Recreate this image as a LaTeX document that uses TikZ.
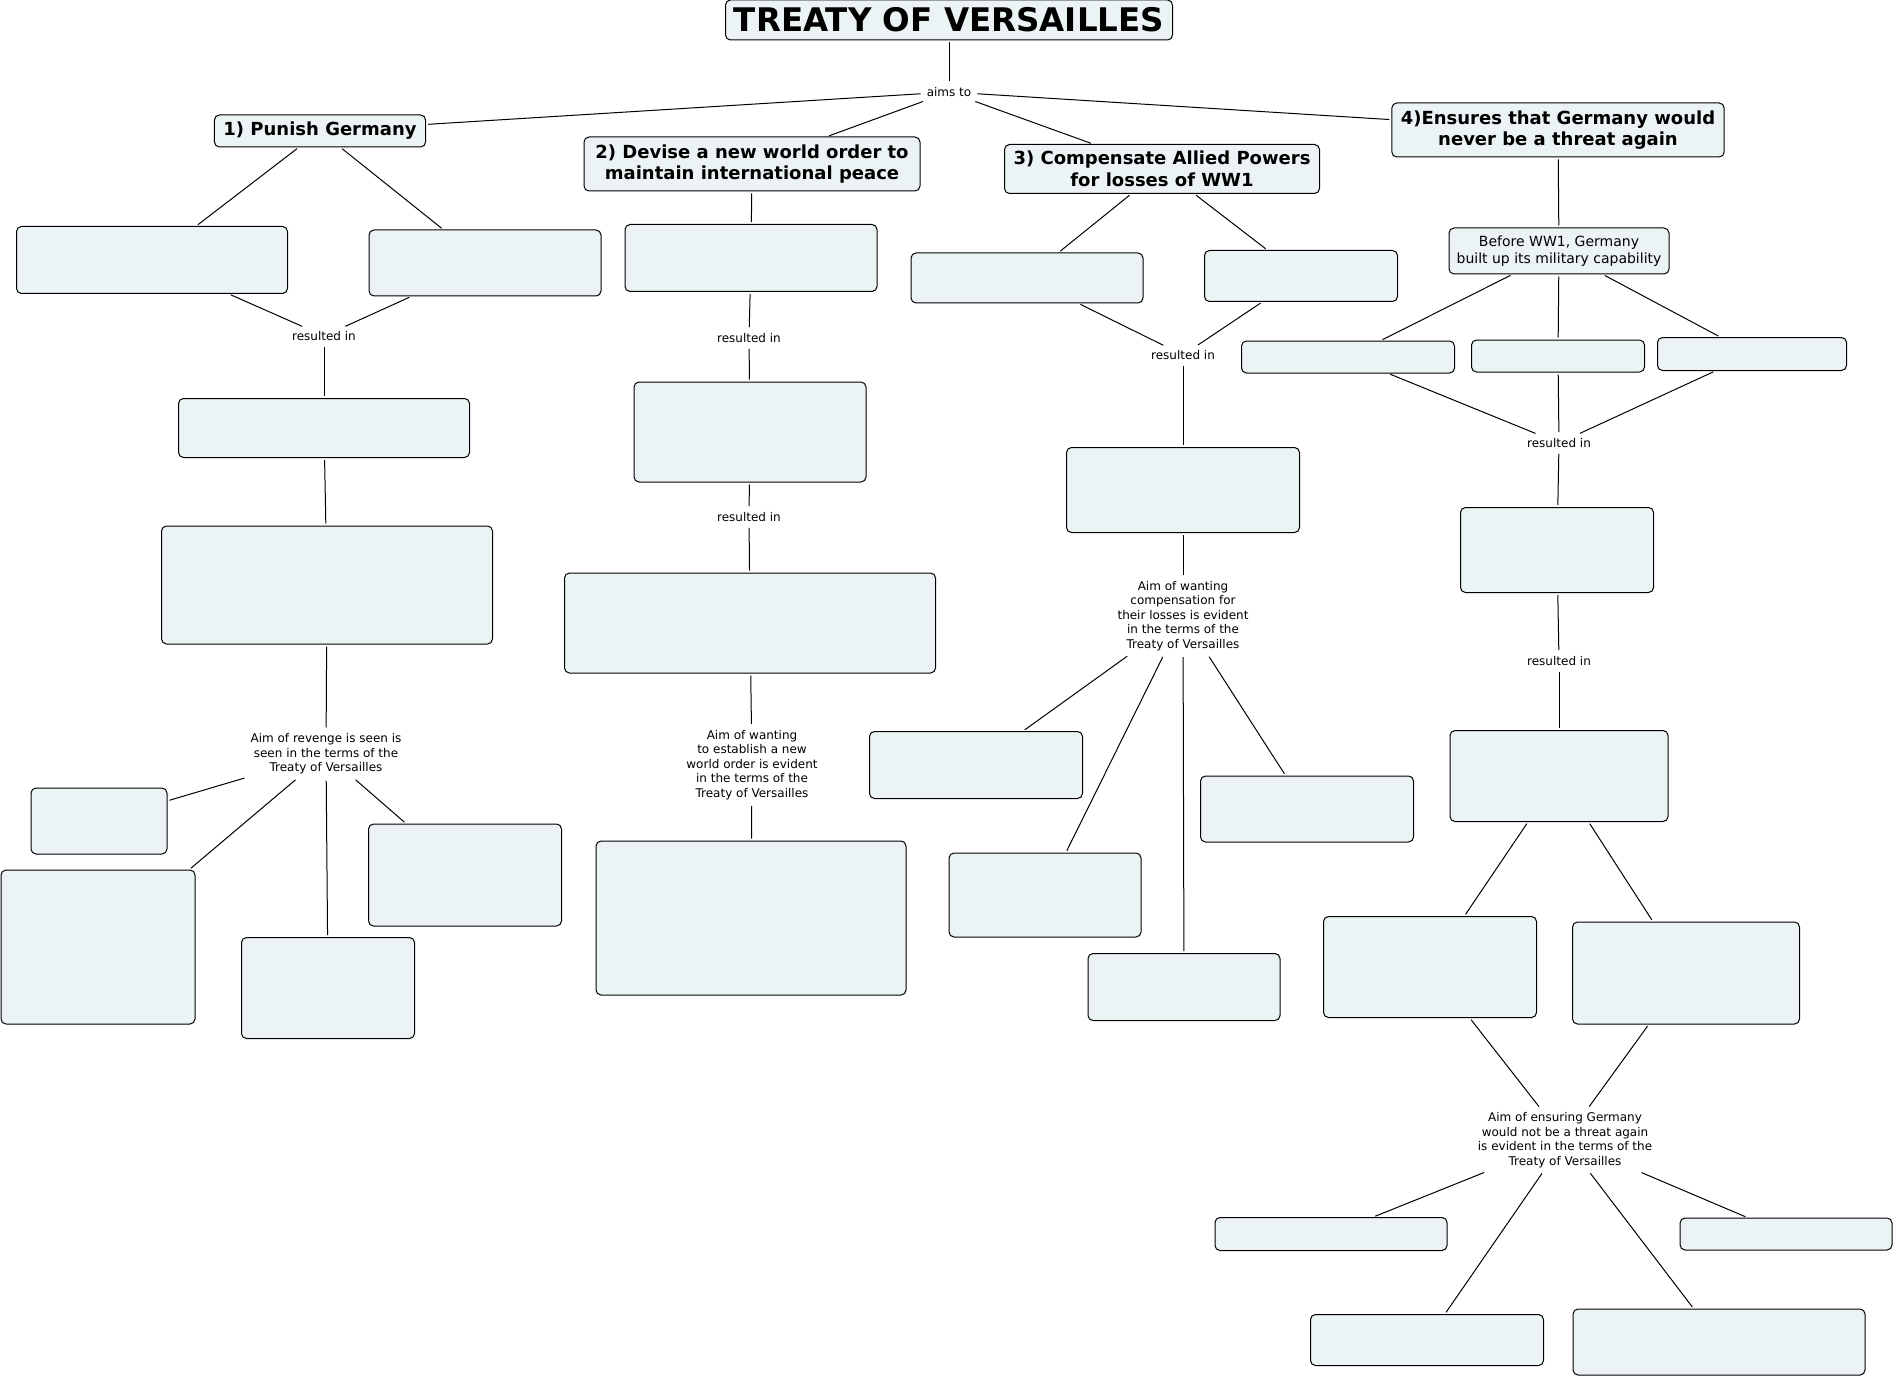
\documentclass[tikz,border=0pt]{standalone}
\usepackage{fontspec}
\setmainfont{DejaVu Sans}
\definecolor{boxfill}{RGB}{235,243,245}
\tikzset{
  box/.style={draw, rounded corners=5pt, fill=boxfill, line width=1pt},
  head/.style={box, font=\bfseries\fontsize{18}{21.5}\selectfont, align=center, inner xsep=9pt, inner ysep=5pt},
  lbl/.style={font=\fontsize{12}{14.5}\selectfont, align=center, inner sep=4pt},
  link/.style={line width=1pt, shorten <=2pt, shorten >=2pt}
}
\begin{document}
\begin{tikzpicture}[x=1pt, y=-1pt]
	\useasboundingbox[fill=white] (0,0) rectangle (1895,1380);
	% title and the four aims
	\node[box, font=\bfseries\fontsize{32.5}{36}\selectfont, minimum width=447pt, minimum height=40pt] (title) at (949,20) {TREATY OF VERSAILLES};
	\node[lbl] (aims) at (949,92) {aims to};
	\node[head, minimum width=210pt, minimum height=32pt] (punish) at (320,131) {1) Punish Germany};
	\node[head, minimum width=336pt, minimum height=54pt] (order) at (752,164) {2) Devise a new world order to\\maintain international peace};
	\node[head, minimum width=311pt, minimum height=49pt] (comp) at (1162,169) {3) Compensate Allied Powers\\for losses of WW1};
	\node[head, minimum width=330pt, minimum height=54pt] (threat) at (1558,130) {4)Ensures that Germany would\\never be a threat again};
	\draw[link] (title) -- (aims);
	\foreach \n in {punish, order, comp, threat}
		\draw[link] (aims) -- (\n);

	% branch 1
	\node[box, minimum width=271pt, minimum height=67pt] (pa) at (152,260) {};
	\node[box, minimum width=232pt, minimum height=66pt] (pb) at (485,263) {};
	\node[lbl] (pres) at (324,336) {resulted in};
	\node[box, minimum width=291pt, minimum height=59pt] (pc) at (324,428) {};
	\node[box, minimum width=331pt, minimum height=118pt] (pd) at (327,585) {};
	\node[lbl] (prev) at (326,754) {Aim of revenge is seen is\\seen in the terms of the\\Treaty of Versailles};
	\node[box, minimum width=136pt, minimum height=66pt] (pe) at (99,821) {};
	\node[box, minimum width=194pt, minimum height=154pt] (pf) at (98,947) {};
	\node[box, minimum width=173pt, minimum height=101pt] (pg) at (328,988) {};
	\node[box, minimum width=193pt, minimum height=102pt] (ph) at (465,875) {};
	\draw[link] (punish) -- (pa);
	\draw[link] (punish) -- (pb);
	\draw[link] (pa) -- (pres);
	\draw[link] (pb) -- (pres);
	\draw[link] (pres) -- (pc);
	\draw[link] (pc) -- (pd);
	\draw[link] (pd) -- (prev);
	\foreach \n in {pe, pf, pg, ph}
		\draw[link] (prev) -- (\n);

	% branch 2
	\node[box, minimum width=252pt, minimum height=67pt] (oa) at (751,258) {};
	\node[lbl] (ores1) at (749,338) {resulted in};
	\node[box, minimum width=232pt, minimum height=100pt] (ob) at (750,432) {};
	\node[lbl] (ores2) at (749,517) {resulted in};
	\node[box, minimum width=371pt, minimum height=100pt] (oc) at (750,623) {};
	\node[lbl] (oaim) at (752,765) {Aim of wanting\\to establish a new\\world order is evident\\in the terms of the\\Treaty of Versailles};
	\node[box, minimum width=310pt, minimum height=154pt] (od) at (751,918) {};
	\draw[link] (order) -- (oa);
	\draw[link] (oa) -- (ores1);
	\draw[link] (ores1) -- (ob);
	\draw[link] (ob) -- (ores2);
	\draw[link] (ores2) -- (oc);
	\draw[link] (oc) -- (oaim);
	\draw[link] (oaim) -- (od);

	% branch 3
	\node[box, minimum width=232pt, minimum height=50pt] (ca) at (1027,278) {};
	\node[box, minimum width=193pt, minimum height=51pt] (cb) at (1301,276) {};
	\node[lbl] (cres) at (1183,355) {resulted in};
	\node[box, minimum width=233pt, minimum height=85pt] (cc) at (1183,490) {};
	\node[lbl] (caim) at (1183,616) {Aim of wanting\\compensation for\\their losses is evident\\in the terms of the\\Treaty of Versailles};
	\node[box, minimum width=213pt, minimum height=67pt] (cd) at (976,765) {};
	\node[box, minimum width=192pt, minimum height=84pt] (ce) at (1045,895) {};
	\node[box, minimum width=192pt, minimum height=67pt] (cf) at (1184,987) {};
	\node[box, minimum width=213pt, minimum height=66pt] (cg) at (1307,809) {};
	\draw[link] (comp) -- (ca);
	\draw[link] (comp) -- (cb);
	\draw[link] (ca) -- (cres);
	\draw[link] (cb) -- (cres);
	\draw[link] (cres) -- (cc);
	\draw[link] (cc) -- (caim);
	\foreach \n in {cd, ce, cf, cg}
		\draw[link] (caim) -- (\n);

	% branch 4
	\node[box, font=\fontsize{14}{17}\selectfont, align=center, minimum width=220pt, minimum height=46pt] (before) at (1559,251) {Before WW1, Germany\\built up its military capability};
	\node[box, minimum width=213pt, minimum height=32pt] (ta) at (1348,357) {};
	\node[box, minimum width=173pt, minimum height=32pt] (tb) at (1558,356) {};
	\node[box, minimum width=189pt, minimum height=33pt] (tc) at (1752,354) {};
	\node[lbl] (tres1) at (1559,443) {resulted in};
	\node[box, minimum width=193pt, minimum height=85pt] (td) at (1557,550) {};
	\node[lbl] (tres2) at (1559,661) {resulted in};
	\node[box, minimum width=218pt, minimum height=91pt] (te) at (1559,776) {};
	\node[box, minimum width=213pt, minimum height=101pt] (tf) at (1430,967) {};
	\node[box, minimum width=227pt, minimum height=102pt] (tg) at (1686,973) {};
	\node[lbl] (taim) at (1565,1140) {Aim of ensuring Germany\\would not be a threat again\\is evident in the terms of the\\Treaty of Versailles};
	\node[box, minimum width=232pt, minimum height=33pt] (th) at (1331,1234) {};
	\node[box, minimum width=233pt, minimum height=51pt] (ti) at (1427,1340) {};
	\node[box, minimum width=292pt, minimum height=66pt] (tj) at (1719,1342) {};
	\node[box, minimum width=212pt, minimum height=32pt] (tk) at (1786,1234) {};
	\draw[link] (threat) -- (before);
	\foreach \n in {ta, tb, tc} {
		\draw[link] (before) -- (\n);
		\draw[link] (\n) -- (tres1);
	}
	\draw[link] (tres1) -- (td);
	\draw[link] (td) -- (tres2);
	\draw[link] (tres2) -- (te);
	\draw[link] (te) -- (tf);
	\draw[link] (te) -- (tg);
	\draw[link] (tf) -- (taim);
	\draw[link] (tg) -- (taim);
	\foreach \n in {th, ti, tj, tk}
		\draw[link] (taim) -- (\n);
\end{tikzpicture}
\end{document}
